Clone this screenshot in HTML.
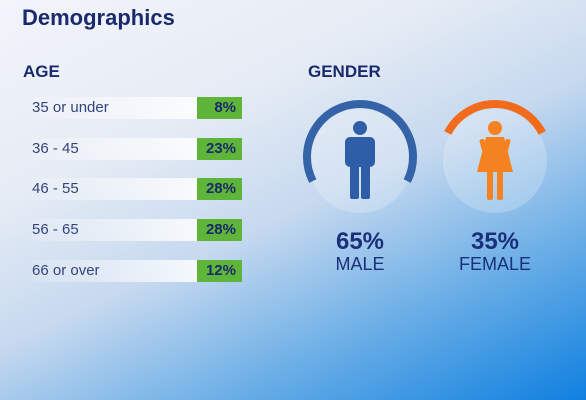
<!DOCTYPE html>
<html><head><meta charset="utf-8"><style>
html,body{margin:0;padding:0}
body{width:586px;height:400px;overflow:hidden;font-family:"Liberation Sans",sans-serif;position:relative;
background:linear-gradient(155deg,#f2f5fa 0%,#e6ecf5 30%,#c6d9ef 52%,#6aaee6 75%,#0f80e0 100%);}
.t{position:absolute;color:#1b2a6e;white-space:nowrap}
.row{position:absolute;left:32px;width:210px;height:22px}
.row .bg{position:absolute;left:0;top:0;width:165px;height:22px;background:linear-gradient(90deg,rgba(255,255,255,0.1),rgba(255,255,255,0.85))}
.row .lbl{position:absolute;left:0;top:2px;font-size:15px;color:#34447a}
.row .val{position:absolute;left:165px;top:0;width:45px;height:22px;background:#5fb43a;color:#182a6a;font-weight:bold;font-size:15px;text-align:right;line-height:22px;box-sizing:border-box;padding-right:6px}
</style></head><body>
<div class="t" style="left:22px;top:5px;font-size:22px;font-weight:bold">Demographics</div>
<div class="t" style="left:23px;top:62px;font-size:17px;font-weight:bold">AGE</div>
<div class="t" style="left:308px;top:62px;font-size:17px;font-weight:bold">GENDER</div>
<div id="ages"></div>
<svg id="g" width="586" height="400" style="position:absolute;left:0;top:0"></svg>
<script>
const ageCats=["35 or under","36 - 45","46 - 55","56 - 65","66 or over"];
const ageVals=[8,23,28,28,12];
const genderCats=["MALE","FEMALE"];
const genderVals=[65,35];
const rowTop=i=>97+i*40.7;
const ages=document.getElementById('ages');
ageCats.forEach((c,i)=>{
  const r=document.createElement('div');r.className='row';r.style.top=rowTop(i)+'px';
  
  
  r.innerHTML='<div class="bg"></div><div class="lbl">'+c+'</div><div class="val">'+ageVals[i]+'%</div>';
  ages.appendChild(r);
});
const svg=document.getElementById('g');const NS='http://www.w3.org/2000/svg';
function el(t,a){const e=document.createElementNS(NS,t);for(const k in a)e.setAttribute(k,a[k]);svg.appendChild(e);return e;}
const cx=[360,495],cy=157,R=53;
const colors=['#3563a8','#f26b1d'];
genderCats.forEach((c,i)=>{
  const x=cx[i];
  const bgc=el('circle',{cx:x,cy:cy+4,r:52,fill:'rgba(255,255,255,0.22)'});
  
  
  const frac=genderVals[i]/100;const span=frac*2*Math.PI;
  const mid=-Math.PI/2;
  const a0=mid-span/2,a1=mid+span/2;
  const p0=[x+R*Math.cos(a0),cy+R*Math.sin(a0)],p1=[x+R*Math.cos(a1),cy+R*Math.sin(a1)];
  const arc=el('path',{d:`M${p0[0]} ${p0[1]} A${R} ${R} 0 ${span>Math.PI?1:0} 1 ${p1[0]} ${p1[1]}`,fill:'none',stroke:colors[i],'stroke-width':8});
  
  
  const col=i==0?'#2f5ea8':'#f58220';
  const fig=document.createElementNS(NS,'g');fig.setAttribute('fill',col);svg.appendChild(fig);
  
  
  if(i==0){
    fig.innerHTML=`<circle cx="${x}" cy="128" r="7"/><rect x="${x-15}" y="137" width="30" height="30" rx="5"/><rect x="${x-10}" y="150" width="9" height="49" rx="2"/><rect x="${x+1}" y="150" width="9" height="49" rx="2"/>`;
  }else{
    fig.innerHTML=`<circle cx="${x}" cy="128" r="7"/><path d="M${x-9} 137 L${x+9} 137 L${x+18} 172 L${x-18} 172 Z"/><rect x="${x-16}" y="139" width="5" height="22" rx="2" transform="rotate(-15 ${x-13} 139)"/><rect x="${x+11}" y="139" width="5" height="22" rx="2" transform="rotate(15 ${x+13} 139)"/><rect x="${x-8}" y="170" width="6" height="30" rx="2"/><rect x="${x+2}" y="170" width="6" height="30" rx="2"/>`;
  }
  const p=el('text',{x:x,y:249,'text-anchor':'middle','font-size':24,'font-weight':'bold',fill:'#1b2f7a','font-family':'Liberation Sans, sans-serif'});
  p.textContent=genderVals[i]+'%';
  
  
  const l=el('text',{x:x,y:270,'text-anchor':'middle','font-size':18,fill:'#1b2f7a','font-family':'Liberation Sans, sans-serif'});
  l.textContent=c;
  
  
});
</script>
</body></html>
